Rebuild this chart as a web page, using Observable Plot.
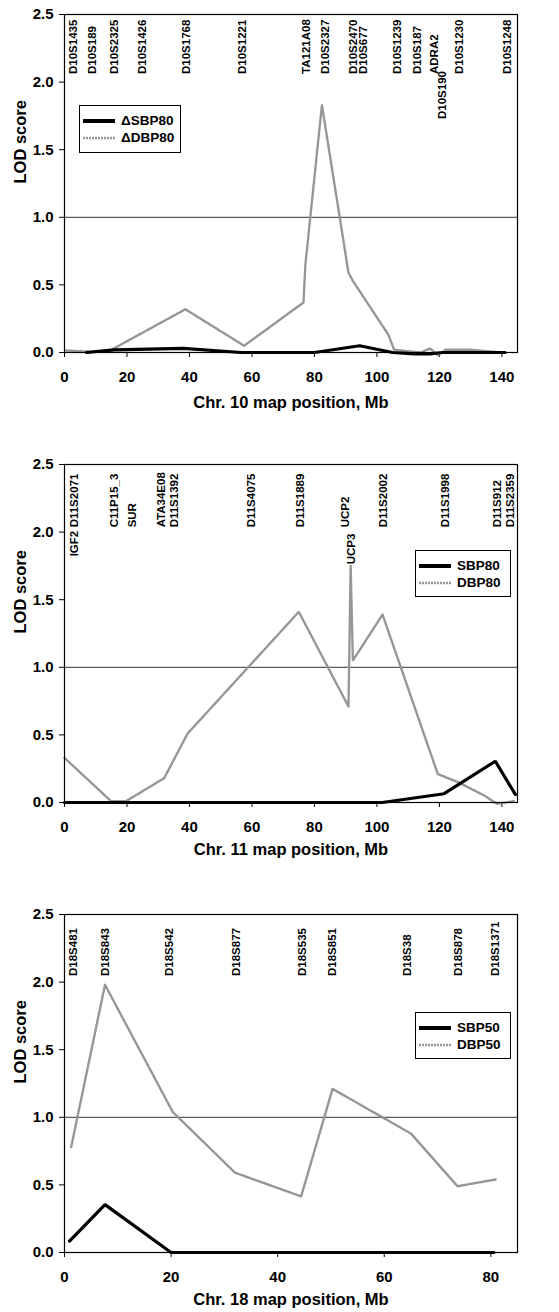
<!DOCTYPE html>
<html><head><meta charset="utf-8">
<script src="https://cdn.jsdelivr.net/npm/d3@7"></script>
<script src="https://cdn.jsdelivr.net/npm/@observablehq/plot@0.6"></script>
<style>
body{margin:0;background:#fff;font-family:"Liberation Sans",Arial,sans-serif;}
#wrap{width:559px;}
.panel{position:relative;width:559px;}
.panel svg{display:block;}
.legend{position:absolute;border:1px solid #000;background:#fff;font-weight:bold;font-size:13.5px;box-sizing:border-box;padding-top:6px;}
.legend .row{display:flex;align-items:center;height:17px;}
.legend svg{margin:0 6px 0 3px;}
</style></head><body><div id="wrap"></div>
<script>
// ---------- Chromosome 10 ----------
const markers10 = ["D10S1435","D10S189","D10S2325","D10S1426","D10S1768","D10S1221","TA121A08","D10S2327","D10S2470","D10S677","D10S1239","D10S187","ADRA2","D10S190","D10S1230","D10S1248"];
const markerPos10 = [2.8, 8.8, 15.8, 24.8, 39.0, 56.8, 77.4, 83.5, 92.3, 95.7, 106.4, 112.8, 118.4, 120.8, 126.4, 141.8];
const sbpPos10 = [7, 16, 38, 56.5, 80, 94.5, 105, 112, 117, 121, 141];
const sbp10 = [0.0, 0.02, 0.03, 0.0, 0.0, 0.05, 0.0, -0.01, -0.01, 0.0, 0.0];
const dbpPos10 = [0.5, 9, 15, 38.7, 57.5, 76.5, 77.1, 82.4, 90.9, 92.3, 103.7, 105.5, 114, 117, 119.5, 122, 130, 140.5];
const dbp10 = [0.015, 0.005, 0.02, 0.32, 0.05, 0.37, 0.65, 1.83, 0.59, 0.53, 0.13, 0.02, 0.0, 0.03, -0.02, 0.02, 0.02, 0.0];
const series10 = ["\u0394SBP80", "\u0394DBP80"];

// ---------- Chromosome 11 ----------
const markers11 = ["D11S2071","IGF2","C11P15_3","SUR","ATA34E08","D11S1392","D11S4075","D11S1889","UCP2","UCP3","D11S2002","D11S1998","D11S912","D11S2359"];
const markerPos11 = [3.3, 3.0, 16.0, 21.8, 31.1, 35.1, 59.9, 75.4, 90.0, 91.8, 102.2, 121.9, 138.4, 142.7];
const sbpPos11 = [0, 101.7, 121.5, 137.9, 144.3];
const sbp11 = [0, 0, 0.065, 0.305, 0.06];
const dbpPos11 = [0, 14.9, 19.7, 31.9, 39.4, 75, 90.9, 91.6, 92.3, 101.8, 119.5, 126, 134.5, 138.4, 143.8];
const dbp11 = [0.33, 0.01, 0.01, 0.18, 0.51, 1.41, 0.71, 1.75, 1.05, 1.39, 0.21, 0.15, 0.05, -0.01, 0.01];
const series11 = ["SBP80", "DBP80"];

// ---------- Chromosome 18 ----------
const markers18 = ["D18S481","D18S843","D18S542","D18S877","D18S535","D18S851","D18S38","D18S878","D18S1371"];
const markerPos18 = [1.6, 7.6, 19.7, 32.2, 44.6, 50.3, 64.3, 73.9, 80.9];
const sbpPos18 = [0.94, 7.6, 20, 80.6];
const sbp18 = [0.085, 0.354, 0, 0];
const dbpPos18 = [1.25, 7.6, 20.3, 32, 44.4, 50.3, 65, 73.75, 80.9];
const dbp18 = [0.78, 1.98, 1.04, 0.59, 0.415, 1.21, 0.88, 0.49, 0.54];
const series18 = ["SBP50", "DBP50"];

const yTicks = [0, 0.5, 1.0, 1.5, 2.0, 2.5];

// ---------- drawing ----------
const GRAY = "#969696";
const GRAY_DASH = "2,1";
const FONT = "'Liberation Sans', Arial, sans-serif";

function table(pos, val) { return pos.map((p, i) => ({x: p, y: val[i]})); }

function panel(o) {
  const div = document.createElement("div");
  div.className = "panel";
  const drops = o.drops || {};
  const plot = Plot.plot({
    width: 559, height: o.height,
    marginTop: 14, marginLeft: 64, marginRight: 42, marginBottom: o.height - 352,
    x: {domain: o.xDomain},
    y: {domain: [0, 2.5]},
    style: {fontFamily: FONT, fontWeight: "bold", fontSize: "15px", color: "#000", background: "#fff", overflow: "visible"},
    marks: [
      Plot.ruleY([1], {stroke: "#333", strokeWidth: 1}),
      Plot.axisX({ticks: o.xTicks, tickSize: 5, tickPadding: 14, tickFormat: d => String(d), label: null, fontSize: 15}),
      Plot.axisY({ticks: yTicks, tickSize: 5, tickPadding: 6, tickFormat: d3.format(".1f"), label: null, fontSize: 15}),
      Plot.line(table(o.dbpPos, o.dbp), {x: "x", y: "y", stroke: GRAY, strokeWidth: 2.4, strokeDasharray: GRAY_DASH}),
      Plot.line(table(o.sbpPos, o.sbp), {x: "x", y: "y", stroke: "#000", strokeWidth: 3.2, strokeLinejoin: "miter"}),
      Plot.frame({stroke: "#000", strokeWidth: 1.2}),
      Plot.text(o.markers.map((m, i) => ({m, x: o.markerPos[i]})).filter(d => !(d.m in drops)),
        {x: "x", y: o.labelBase, text: "m", rotate: -90, textAnchor: "start", fontSize: 11.5, fontWeight: "bold", fill: "#000"}),
      ...o.markers.map((m, i) => ({m, x: o.markerPos[i]})).filter(d => d.m in drops).map(d =>
        Plot.text([d], {x: "x", y: o.labelBase, dy: drops[d.m], text: "m", rotate: -90, textAnchor: "start", fontSize: 11.5, fontWeight: "bold", fill: "#000"})),
      Plot.text([o.xLabel], {frameAnchor: "bottom", dy: o.titleDy, fontSize: 16.5, fontWeight: "bold", fill: "#000"}),
      Plot.text(["LOD score"], {frameAnchor: "left", dx: -44, rotate: -90, fontSize: 16.5, fontWeight: "bold", fill: "#000"})
    ]
  });
  div.appendChild(plot);
  // legend
  const lg = document.createElement("div");
  lg.className = "legend";
  Object.assign(lg.style, {left: o.legend.left + "px", top: o.legend.top + "px", width: o.legend.width + "px", height: o.legend.height + "px"});
  const rows = [
    {name: o.series[0], stroke: "#000", w: 4, dash: null},
    {name: o.series[1], stroke: GRAY, w: 2.4, dash: GRAY_DASH}
  ];
  for (const r of rows) {
    const row = document.createElement("div");
    row.className = "row";
    row.innerHTML = `<svg width="32" height="8"><line x1="0" y1="4" x2="32" y2="4" stroke="${r.stroke}" stroke-width="${r.w}" ${r.dash ? `stroke-dasharray="${r.dash}"` : ""}/></svg><span>${r.name}</span>`;
    lg.appendChild(row);
  }
  div.appendChild(lg);
  return div;
}

const wrap = document.getElementById("wrap");
wrap.appendChild(panel({
  height: 450, xDomain: [0, 145], xTicks: d3.range(0, 141, 20), titleDy: 55,
  xLabel: "Chr. 10 map position, Mb",
  markers: markers10, markerPos: markerPos10, labelBase: 2.06, drops: {"D10S190": 45},
  sbpPos: sbpPos10, sbp: sbp10, dbpPos: dbpPos10, dbp: dbp10, series: series10,
  legend: {left: 79, top: 105, width: 102, height: 48}
}));
wrap.appendChild(panel({
  height: 450, xDomain: [0, 145], xTicks: d3.range(0, 141, 20), titleDy: 52,
  xLabel: "Chr. 11 map position, Mb",
  markers: markers11, markerPos: markerPos11, labelBase: 2.035, drops: {"IGF2": 29, "UCP3": 37},
  sbpPos: sbpPos11, sbp: sbp11, dbpPos: dbpPos11, dbp: dbp11, series: series11,
  legend: {left: 415, top: 100, width: 96, height: 47}
}));
wrap.appendChild(panel({
  height: 412, xDomain: [0, 85], xTicks: d3.range(0, 81, 20), titleDy: 52,
  xLabel: "Chr. 18 map position, Mb",
  markers: markers18, markerPos: markerPos18, labelBase: 2.045, drops: {},
  sbpPos: sbpPos18, sbp: sbp18, dbpPos: dbpPos18, dbp: dbp18, series: series18,
  legend: {left: 415, top: 112, width: 96, height: 47}
}));
</script></body></html>
